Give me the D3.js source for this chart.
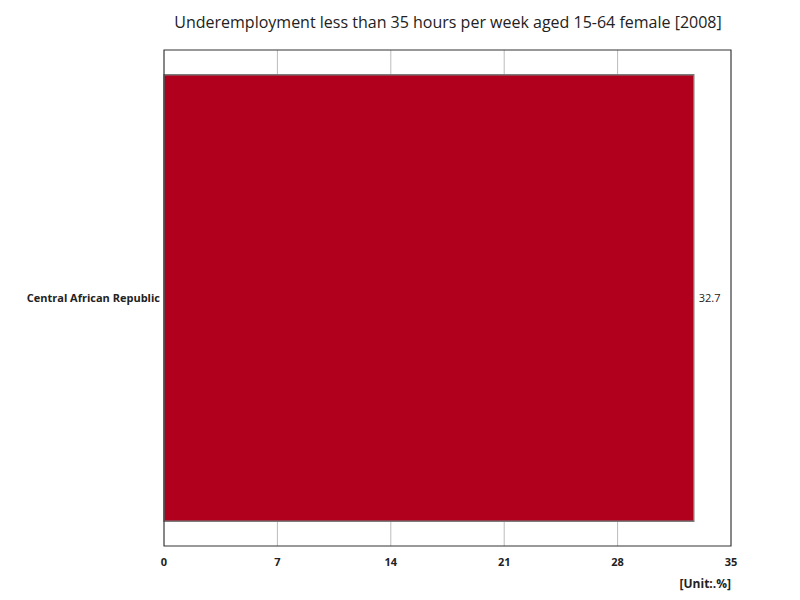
<!DOCTYPE html>
<html><head><meta charset="utf-8">
<script src="https://cdn.jsdelivr.net/npm/d3@7"></script>
<style>body{margin:0;background:#fff}</style></head>
<body><svg id="c" width="800" height="600"></svg>
<script>
const categories = ["Central African Republic"];
const values = [32.7];
const ticks = [0,7,14,21,28,35];
const svg = d3.select("#c");
const m = {l:164, r:731, t:50, b:546};
const x = d3.scaleLinear().domain([0,35]).range([m.l,m.r]);
const y = d3.scaleBand().domain(categories).range([m.t,m.b]).paddingInner(0.1).paddingOuter(0.05);
svg.append("text").attr("x",448).attr("y",28).attr("text-anchor","middle")
  .attr("font-family","Open Sans, sans-serif").attr("font-size",16).attr("fill","#222")
  .text("Underemployment less than 35 hours per week aged 15-64 female [2008]");
svg.selectAll("line.g").data(ticks).enter().append("line")
  .attr("x1",d=>x(d)).attr("x2",d=>x(d)).attr("y1",m.t).attr("y2",m.b)
  .attr("stroke","#bbb").attr("stroke-width",1);
svg.selectAll("rect.b").data(values).enter().append("rect")
  .attr("x",x(0)).attr("y",(d,i)=>y(categories[i])).attr("width",d=>x(d)-x(0))
  .attr("height",y.bandwidth()).attr("fill","#b0001e").attr("stroke","#777").attr("stroke-width",1.5);
svg.append("rect").attr("x",m.l).attr("y",m.t).attr("width",m.r-m.l).attr("height",m.b-m.t)
  .attr("fill","none").attr("stroke","#333").attr("stroke-width",1);
svg.selectAll("text.t").data(ticks).enter().append("text")
  .attr("x",d=>x(d)).attr("y",566).attr("text-anchor","middle")
  .attr("font-family","Open Sans, sans-serif").attr("font-size",11).attr("font-weight","bold").attr("fill","#222").text(d=>d);
svg.selectAll("text.c").data(categories).enter().append("text")
  .attr("x",m.l-4).attr("y",d=>y(d)+y.bandwidth()/2+4).attr("text-anchor","end")
  .attr("font-family","Open Sans, sans-serif").attr("font-size",11).attr("font-weight","bold").attr("fill","#222").text(d=>d);
svg.selectAll("text.v").data(values).enter().append("text")
  .attr("x",d=>x(d)+5).attr("y",(d,i)=>y(categories[i])+y.bandwidth()/2+4)
  .attr("font-family","Open Sans, sans-serif").attr("font-size",11).attr("fill","#222").text(d=>d);
svg.append("text").attr("x",731).attr("y",588).attr("text-anchor","end")
  .attr("font-family","Open Sans, sans-serif").attr("font-size",12).attr("font-weight","bold").attr("fill","#222").text("[Unit:.%]");
</script></body></html>
